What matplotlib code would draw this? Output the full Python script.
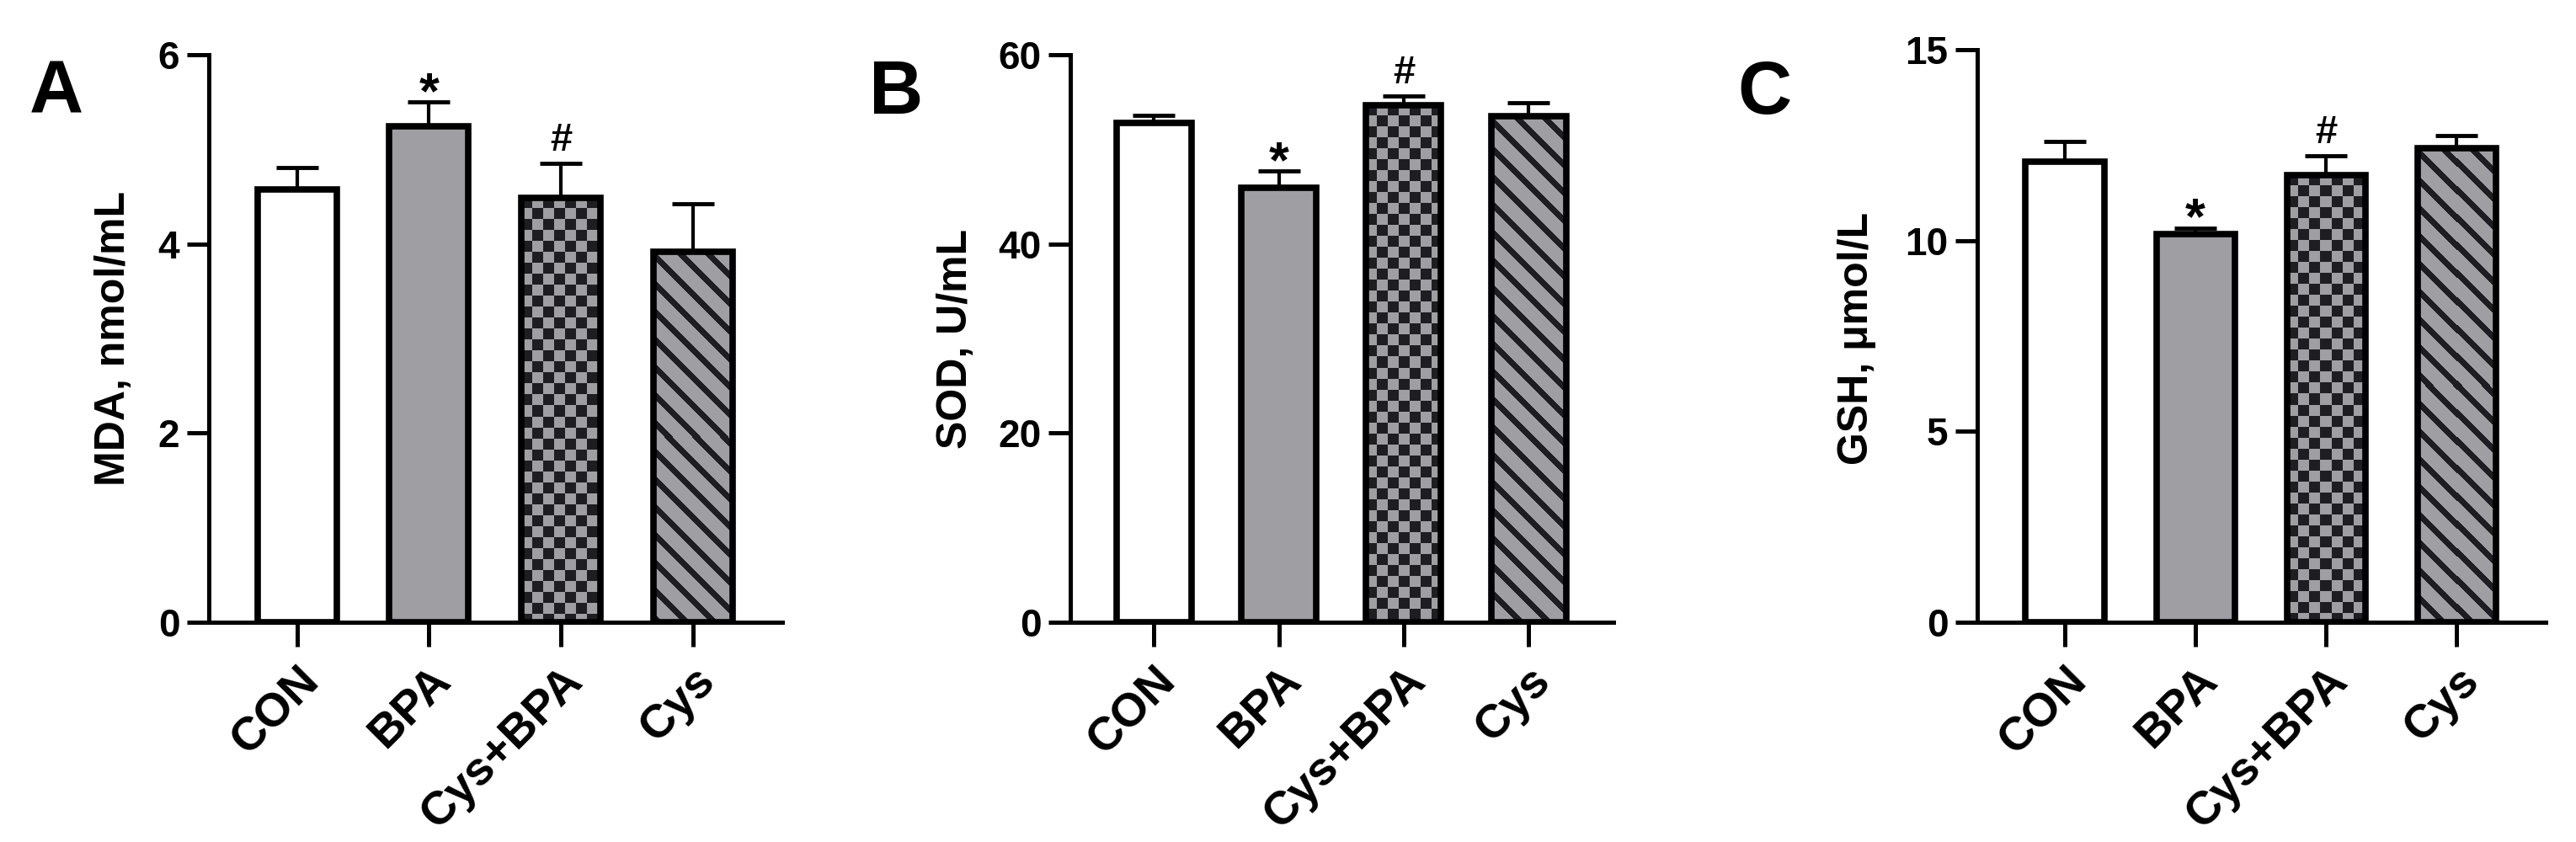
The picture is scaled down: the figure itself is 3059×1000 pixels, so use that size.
import numpy as np
import matplotlib
matplotlib.use("Agg")
from matplotlib import pyplot as plt

plt.rcParams['font.family'] = ['Liberation Sans', 'DejaVu Sans']
plt.rcParams['font.weight'] = 'bold'

groups = ["CON", "BPA", "Cys+BPA", "Cys"]

mda_mean = [4.58, 5.24, 4.49, 3.92]
mda_sem = [0.23, 0.26, 0.36, 0.50]
sod_mean = [52.8, 45.9, 54.7, 53.5]
sod_sem = [0.8, 1.8, 0.9, 1.4]
gsh_mean = [12.07, 10.16, 11.72, 12.43]
gsh_sem = [0.53, 0.17, 0.50, 0.32]

marks = ["", "*", "#", ""]

panels = [
    ("A", "MDA, nmol/mL", mda_mean, mda_sem, [0, 2, 4, 6]),
    ("B", "SOD, U/mL", sod_mean, sod_sem, [0, 20, 40, 60]),
    ("C", "GSH, μmol/L", gsh_mean, gsh_sem, [0, 5, 10, 15]),
]

# axes boxes in pixels (left, right, top, bottom)
boxes = [(248, 929, 65, 739), (1271, 1916, 65, 739), (2348, 3023, 59, 739)]
letter_x = [35, 1032, 2063]
ylabel_x = [135, 1135, 2205]

W, H = 3059, 1000
GRAY = np.array([158, 158, 163]) / 255
DARK = np.array([30, 30, 34]) / 255
styles = ["white", "gray", "checker", "stripes"]

fig = plt.figure(figsize=(W / 100, H / 100), dpi=100)


def texture(ax, bar, kind):
    x0 = bar.get_x()
    x1 = x0 + bar.get_width()
    h = bar.get_height()
    p0 = ax.transData.transform((x0, 0))
    p1 = ax.transData.transform((x1, h))
    nw = max(int(round(p1[0] - p0[0])), 1)
    nh = max(int(round(p1[1] - p0[1])), 1)
    i, j = np.mgrid[0:nh, 0:nw]
    if kind == "checker":
        mask = ((i // 13 + j // 13) % 2) == 0
    else:
        mask = ((i - j) % 33) < 10
    img = np.where(mask[..., None], DARK, GRAY)
    ax.imshow(img, extent=(x0, x1, 0, h), origin="upper", aspect="auto",
              interpolation="nearest", zorder=2)


for k, (letter, ylabel, mean, sem, yticks) in enumerate(panels):
    l, r, t, b = boxes[k]
    ax = fig.add_axes([l / W, 1 - b / H, (r - l) / W, (b - t) / H])
    x = np.arange(len(groups))
    ax.set_xlim(-0.67, 3.68)
    ax.set_ylim(0, yticks[-1])

    ax.errorbar(x, mean, yerr=[np.zeros(len(sem)), sem], fmt="none",
                ecolor="black", elinewidth=3, capsize=18, capthick=3.5, zorder=1)

    fills = [(1, 1, 1), GRAY, GRAY, GRAY]
    bars = ax.bar(x, mean, width=0.6, color=fills, edgecolor="none", zorder=2)
    for bar, st in zip(bars, styles):
        if st in ("checker", "stripes"):
            texture(ax, bar, st)
    ax.bar(x, mean, width=0.6, fill=False, edgecolor="black", linewidth=5.5, zorder=3)
    ax.set_xlim(-0.67, 3.68)
    ax.set_ylim(0, yticks[-1])

    for xi, m, s, mk in zip(x, mean, sem, marks):
        if mk == "*":
            ax.annotate(mk, (xi, m + s), xytext=(0, -5), textcoords="offset points",
                        ha="center", va="baseline", fontsize=44, fontweight="bold")
        elif mk:
            ax.annotate(mk, (xi, m + s), xytext=(0, 11), textcoords="offset points",
                        ha="center", va="baseline", fontsize=34, fontweight="bold")

    ax.spines["top"].set_visible(False)
    ax.spines["right"].set_visible(False)
    ax.spines["left"].set_linewidth(3.6)
    ax.spines["bottom"].set_linewidth(3.6)
    ax.set_yticks(yticks)
    ax.set_xticks(x)
    ax.set_xticklabels(groups, rotation=45, ha="right", rotation_mode="anchor")
    ax.tick_params(axis="y", length=19, width=3.6, labelsize=33, pad=6)
    ax.tick_params(axis="x", length=21, width=3.6, labelsize=40, pad=10)
    for lab in ax.get_xticklabels() + ax.get_yticklabels():
        lab.set_fontweight("bold")

    fig.text(ylabel_x[k] / W, 1 - 402 / H, ylabel, rotation=90, ha="center",
             va="center", fontsize=36, fontweight="bold")
    fig.text(letter_x[k] / W, 1 - 135 / H, letter, ha="left", va="baseline",
             fontsize=64, fontweight="bold")

fig.savefig("out.png", dpi=100)
